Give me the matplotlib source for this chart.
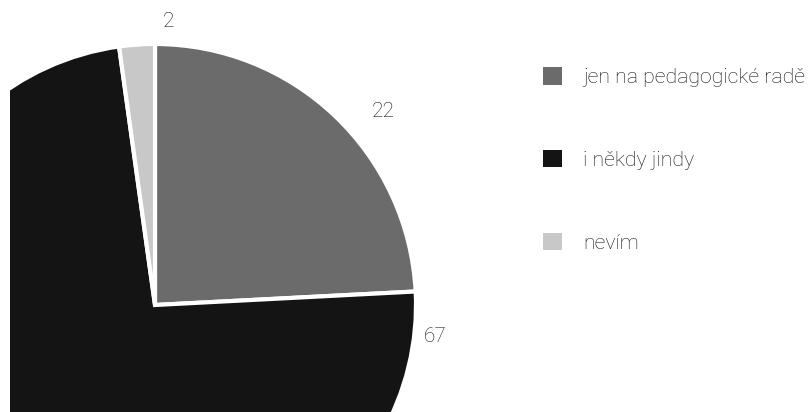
import matplotlib
matplotlib.use("Agg")
import matplotlib.pyplot as plt
from matplotlib.patches import Patch
from matplotlib import font_manager

categories = ["jen na pedagogické radě", "i někdy jindy", "nevím"]
values = [22, 67, 2]
colors = ["#6b6b6b", "#141414", "#c8c8c8"]
value_label_pos = [(383, 301), (435, 75), (169, 391)]

names = {f.name for f in font_manager.fontManager.ttflist}
family = "Roboto" if "Roboto" in names else "DejaVu Sans"
plt.rcParams["font.family"] = [family, "DejaVu Sans"]

W, H = 812, 412
left = 10
fig = plt.figure(figsize=(W / 100, H / 100), dpi=100)
ax = fig.add_axes([left / W, 0, 1 - left / W, 1])

wedges, _ = ax.pie(values, colors=colors, startangle=90, counterclock=False,
                   center=(155, 107), radius=261,
                   wedgeprops=dict(edgecolor="white", linewidth=3))
for w in wedges:
    w.set_clip_on(True)

ax.set_xlim(left, W)
ax.set_ylim(0, H)
ax.set_aspect("equal")
ax.axis("off")

text_color = "#141414"
for (x, y), v in zip(value_label_pos, values):
    ax.text(x, y, str(v), ha="center", va="center", fontsize=15,
            color=text_color, fontweight="light")

handles = [Patch(facecolor=c, edgecolor="none") for c in colors]
leg = fig.legend(handles, categories, loc="center left",
                 bbox_to_anchor=(543 / W, 1 - 160 / H),
                 frameon=False, fontsize=15.3, handlelength=0.88, handleheight=0.88,
                 handletextpad=1.0, labelspacing=2.95, borderaxespad=0, borderpad=0)
for t in leg.get_texts():
    t.set_color(text_color)
    t.set_fontweight("light")

fig.savefig("out.png", dpi=100)
